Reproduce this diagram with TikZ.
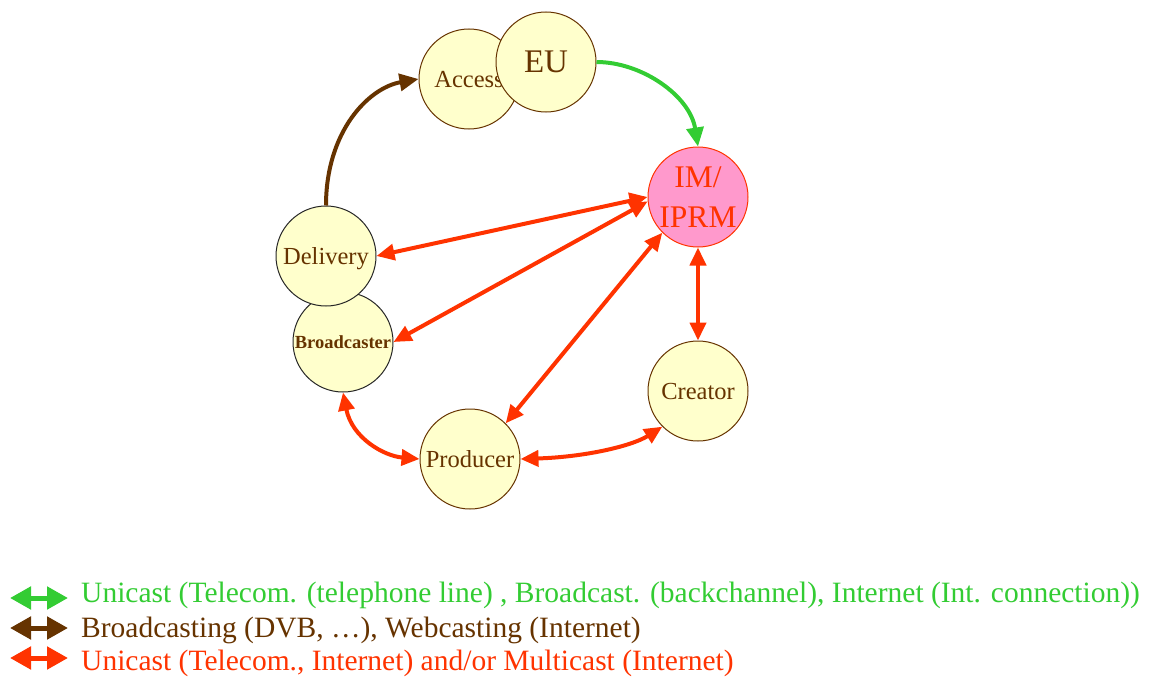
\documentclass[tikz,border=0pt]{standalone}
\usepackage{fontspec}
\setmainfont{Liberation Serif}
\usetikzlibrary{arrows.meta}

\definecolor{cream}{HTML}{FFFFCC}
\definecolor{pinkfill}{HTML}{FF99CC}
\definecolor{ucgreen}{HTML}{33CC33}
\definecolor{bcbrown}{HTML}{663300}
\definecolor{mcred}{HTML}{FF3300}

\tikzset{
  actor/.style={circle, draw=bcbrown, line width=1pt, fill=cream,
    minimum size=100pt, inner sep=0pt, text=bcbrown, text depth=0pt,
    font=\fontsize{24.5}{29}\selectfont},
  darkrim/.style={draw=black!85},
  hub/.style={circle, draw=mcred, line width=1pt, fill=pinkfill,
    minimum size=100pt, inner sep=0pt, text=mcred, align=center, text depth=0pt,
    font=\fontsize{31.5}{40}\selectfont},
  tipg/.style={-{Triangle[length=19pt,width=17pt]}},
  tipboth/.style={{Triangle[length=18pt,width=16pt]}-{Triangle[length=18pt,width=16pt]}},
  greenlink/.style={ucgreen, line width=4pt, tipg},
  brownlink/.style={bcbrown, line width=4pt, tipg},
  redlink/.style={mcred, line width=4pt, tipboth},
  keyarrow/.style={line width=5pt,
    {Triangle[length=21pt,width=22pt]}-{Triangle[length=21pt,width=22pt]}},
  keytext/.style={anchor=base west, inner sep=0pt,
    font=\fontsize{29.5}{36}\selectfont},
}

\begin{document}
\begin{tikzpicture}[x=1pt,y=1pt]
  \useasboundingbox (0,0) rectangle (1149,-677);

  % actors of the value chain
  \node[actor] (access) at (469,-79) {Access};
  \node[actor, font=\fontsize{33}{38}\selectfont] (eu) at (546,-62) {EU};
  \node[hub] (im) at (698,-197) {IM/\\IPRM};
  \node[actor, darkrim, font=\fontsize{18.5}{22}\selectfont\bfseries] (bcast) at (343,-342) {Broadcaster};
  \node[actor, darkrim] (delivery) at (326,-256) {Delivery};
  \node[actor] (producer) at (470,-459) {Producer};
  \node[actor] (creator) at (698,-391) {Creator};

  % broadcasting link
  \draw[brownlink] (delivery.north) .. controls (326,-132) and (368,-88) .. (access.west);

  % unicast back channel
  \draw[greenlink] (eu.east) .. controls (642,-62) and (690,-96) .. (im.north);

  % unicast / multicast links
  \draw[redlink] (delivery.east) -- (im.west);
  \draw[redlink] (bcast.east) -- (im.185);
  \draw[redlink] (producer.45) -- (im.225);
  \draw[redlink] (im.south) -- (creator.north);
  \draw[redlink] (producer.east) .. controls (585,-457) and (632,-446) .. (creator.225);
  \draw[redlink] (bcast.south) .. controls (352,-438) and (384,-456) .. (producer.west);

  % key
  \coordinate (kg1) at (10,-598);  \coordinate (kg2) at (68,-598);
  \coordinate (kb1) at (10,-628);  \coordinate (kb2) at (68,-628);
  \coordinate (kr1) at (10,-658);  \coordinate (kr2) at (68,-658);
  \draw[keyarrow, ucgreen] (kg1) -- (kg2);
  \draw[keyarrow, bcbrown] (kb1) -- (kb2);
  \draw[keyarrow, mcred] (kr1) -- (kr2);
  \node[keytext, text=ucgreen] (keyg) at (81,-602)
    {Unicast (Telecom. (telephone line) , Broadcast. (backchannel), Internet (Int. connection))};
  \node[keytext, text=bcbrown] (keyb) at (81,-637)
    {Broadcasting (DVB, …), Webcasting (Internet)};
  \node[keytext, text=mcred] (keyr) at (81,-670)
    {Unicast (Telecom., Internet) and/or Multicast (Internet)};
\end{tikzpicture}
\end{document}
